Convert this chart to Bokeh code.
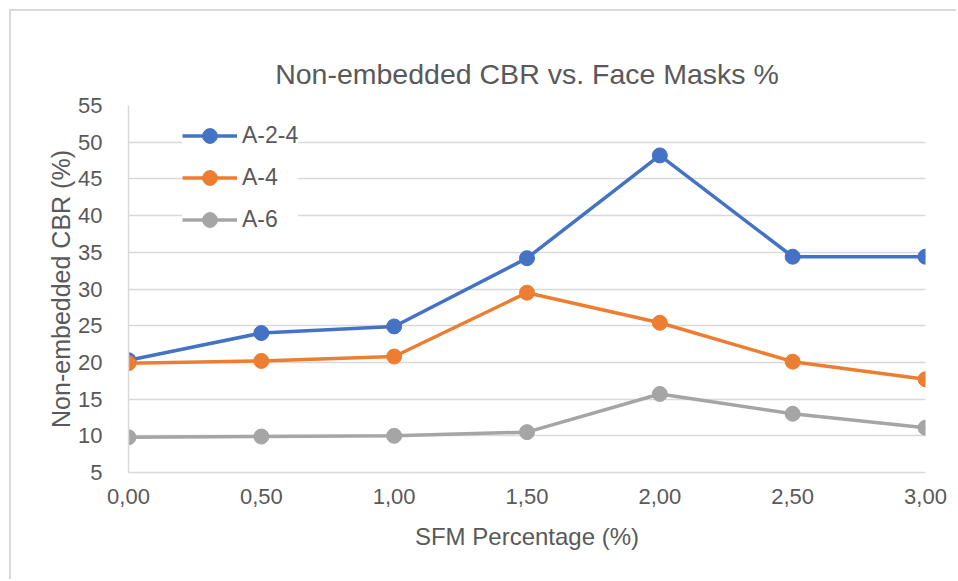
from bokeh.plotting import figure
from bokeh.models import Range1d, FixedTicker, Legend, LegendItem
from bokeh.embed import file_html
from bokeh.resources import INLINE

sfm = [0.0, 0.5, 1.0, 1.5, 2.0, 2.5, 3.0]
x_tick_labels = ["0,00", "0,50", "1,00", "1,50", "2,00", "2,50", "3,00"]
y_ticks = [5, 10, 15, 20, 25, 30, 35, 40, 45, 50, 55]

a24 = [20.3, 24.0, 24.9, 34.2, 48.2, 34.4, 34.4]
a4 = [19.9, 20.2, 20.8, 29.5, 25.4, 20.1, 17.7]
a6 = [9.8, 9.9, 10.0, 10.5, 15.7, 13.0, 11.1]

series_names = ["A-2-4", "A-4", "A-6"]
series_colors = ["#4472C4", "#ED7D31", "#A5A5A5"]

FONT = "Liberation Sans"
TXT = "#595959"

p = figure(width=947, height=570, output_backend="svg", toolbar_location=None,
           x_range=Range1d(0, 3), y_range=Range1d(5, 55),
           min_border_left=117, min_border_right=33, min_border_top=94, min_border_bottom=109,
           title="Non-embedded CBR vs. Face Masks %")
p.styles = {"margin-left": "9px", "margin-top": "9px",
            "border-top": "2px solid #d9d9d9", "border-left": "2px solid #d9d9d9"}
p.outline_line_color = None

p.title.align = "center"
p.title.text_font = FONT
p.title.text_font_size = "28.5px"
p.title.text_font_style = "normal"
p.title.text_color = TXT
p.title.offset = 0
p.title.standoff = 32

p.xaxis.ticker = FixedTicker(ticks=sfm)
p.xaxis.major_label_overrides = {t: l for t, l in zip(sfm, x_tick_labels)}
p.yaxis.ticker = FixedTicker(ticks=y_ticks)

for ax in (p.xaxis, p.yaxis):
    ax.axis_line_color = "#d9d9d9"
    ax.axis_line_width = 1.5
    ax.major_tick_line_color = None
    ax.minor_tick_line_color = None
    ax.major_label_text_font = FONT
    ax.major_label_text_font_size = "22px"
    ax.major_label_text_color = TXT
    ax.axis_label_text_font = FONT
    ax.axis_label_text_font_style = "normal"
    ax.axis_label_text_color = TXT

p.xaxis.axis_label = "SFM Percentage (%)"
p.yaxis.axis_label = "Non-embedded CBR (%)"
p.xaxis.axis_label_text_font_size = "24px"
p.yaxis.axis_label_text_font_size = "25px"
p.xaxis.major_label_standoff = 10
p.yaxis.major_label_standoff = 20
p.xaxis.axis_label_standoff = 16
p.yaxis.axis_label_standoff = 0

p.xgrid.grid_line_color = None
p.ygrid.grid_line_color = "#d9d9d9"
p.ygrid.grid_line_width = 1.5

items = []
for name, vals, col in zip(series_names, [a24, a4, a6], series_colors):
    r1 = p.line(sfm, vals, line_color=col, line_width=3.5)
    r2 = p.scatter(sfm, vals, size=15, fill_color=col, line_color=col)
    items.append(LegendItem(label=name, renderers=[r1, r2]))

legend = Legend(items=items, location=(54, 234))
legend.label_text_font = FONT
legend.label_text_font_size = "23px"
legend.label_text_color = TXT
legend.glyph_width = 55
legend.glyph_height = 37
legend.label_height = 37
legend.spacing = 5
legend.padding = 8
legend.label_standoff = 5
legend.border_line_color = None
legend.background_fill_color = "white"
legend.background_fill_alpha = 1
p.add_layout(legend)

open("out.html", "w").write(file_html(p, INLINE))
